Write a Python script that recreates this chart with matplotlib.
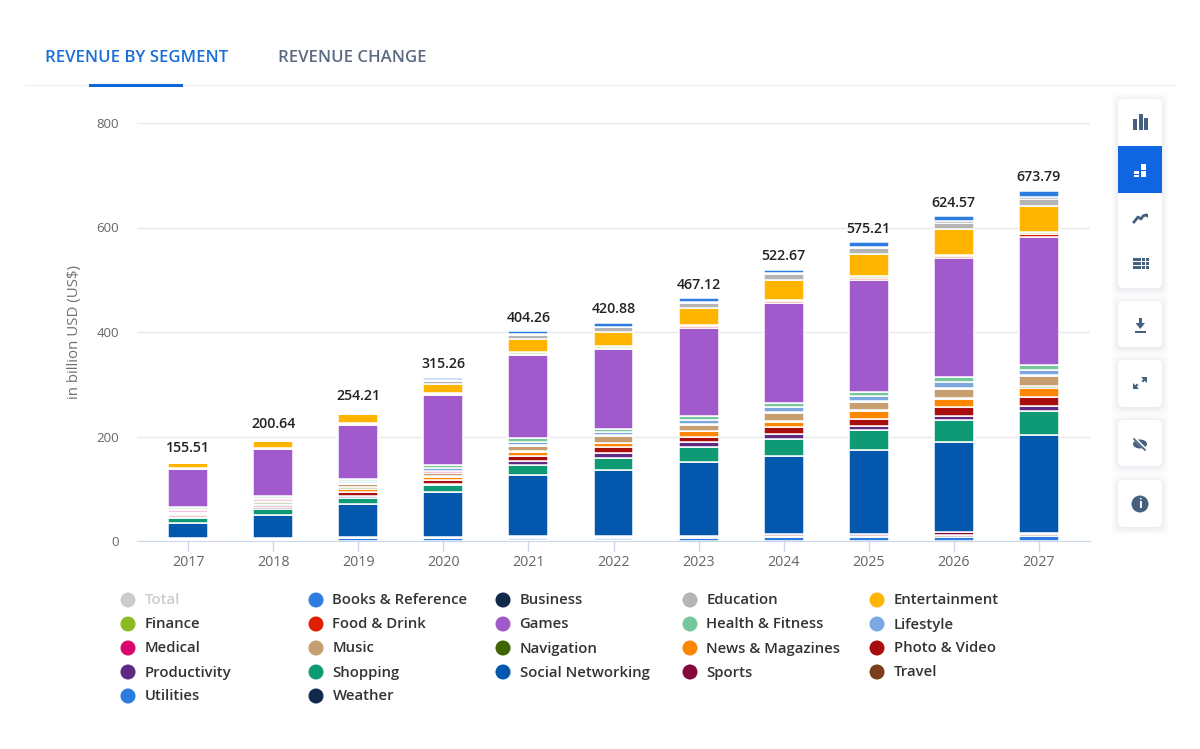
import numpy as np
from matplotlib import pyplot as plt
from matplotlib.patches import FancyBboxPatch, Rectangle, Circle, Ellipse, Polygon

plt.rcParams['font.family'] = ['Open Sans', 'Noto Sans', 'DejaVu Sans']

years = ['2017', '2018', '2019', '2020', '2021', '2022', '2023', '2024', '2025', '2026', '2027']
totals = [155.51, 200.64, 254.21, 315.26, 404.26, 420.88, 467.12, 522.67, 575.21, 624.57, 673.79]

# stacked bottom to top
weather = [1.25, 1.25, 0.5, 0.5, 2.5, 2.5, 0.5, 0.5, 0.5, 0.5, 0.5]
utilities = [1.25, 1.25, 4.5, 4.5, 2.5, 2.5, 5.5, 7, 7, 8, 9.9]
travel = [1.25, 1.25, 1.5, 1.5, 2.5, 2.5, 2, 2.8, 2.8, 2.8, 2.8]
sports = [1.25, 1.25, 1.5, 2, 2.5, 2.5, 2, 2.7, 2.7, 5.7, 2.8]
social = [29, 45, 62, 85.5, 116, 126.5, 141, 150, 161, 172, 187]
shopping = [10, 12, 13, 13, 19.5, 23, 28, 32, 38.5, 42.5, 46]
productivity = [2.5, 2.8, 2.8, 2.8, 8, 8.5, 10, 9, 8.5, 8.5, 10]
photo = [2.5, 3.6, 7.5, 7, 9.5, 11, 10, 13.5, 12.5, 16, 17]
news = [3.2, 2.8, 7, 6, 8, 8, 11, 10.5, 15, 16, 17.5]
navigation = [0.5, 2.8, 2.5, 2, 1, 1.5, 1, 1.5, 2, 2, 2.8]
music = [3.5, 3.2, 5.5, 6, 10, 13, 11, 16, 16, 17, 19.5]
medical = [2.8, 2.8, 2.5, 2.5, 2, 1.5, 2, 2, 2, 2.5, 2.8]
lifestyle = [2.8, 3.2, 4.5, 5.5, 6, 5, 7.5, 8.5, 9.5, 10, 9.5]
health = [2.8, 2.8, 3.2, 6, 6.5, 6, 7.5, 7.5, 6.5, 9.5, 9.2]
games = [72.4, 89.5, 103, 134.2, 159.5, 153.5, 169, 192.5, 215, 229, 245]
food = [1, 1, 1.5, 2, 2.5, 2.75, 2.8, 2.8, 4.5, 2.8, 6]
finance = [1.5, 1.5, 2, 2.5, 2.5, 2.75, 2.8, 2.8, 2.8, 2.8, 2.8]
entertainment = [10, 13, 19, 17, 25, 27.5, 31.4, 37.9, 41.7, 49.4, 50.7]
education = [0, 0, 0, 6.5, 8.5, 8.5, 10, 11.5, 12, 11, 12]
business = [0, 0, 0, 1, 1.5, 1.5, 1.5, 1.5, 1.5, 4, 5]
books = [0, 0, 0, 4, 6, 7, 8, 7, 10, 10.5, 11]

stack = [
    (weather, '#10294a'), (utilities, '#2b7be0'), (travel, '#7a3e1d'), (sports, '#84083c'),
    (social, '#0358ae'), (shopping, '#0f9a76'), (productivity, '#5e2a84'), (photo, '#a80e0e'),
    (news, '#ff8600'), (navigation, '#3f6500'), (music, '#c79e70'), (medical, '#d9046c'),
    (lifestyle, '#7ba8e0'), (health, '#76c79b'), (games, '#a05acb'), (food, '#e01f00'),
    (finance, '#8bbc21'), (entertainment, '#ffb400'), (education, '#b5b5b5'),
    (business, '#10294a'), (books, '#2b7be0'),
]

legend_names = ['Total', 'Books & Reference', 'Business', 'Education', 'Entertainment',
                'Finance', 'Food & Drink', 'Games', 'Health & Fitness', 'Lifestyle',
                'Medical', 'Music', 'Navigation', 'News & Magazines', 'Photo & Video',
                'Productivity', 'Shopping', 'Social Networking', 'Sports', 'Travel',
                'Utilities', 'Weather']
legend_colors = ['#cccccc', '#2b7be0', '#10294a', '#b5b5b5', '#ffb400',
                 '#8bbc21', '#e01f00', '#a05acb', '#76c79b', '#7ba8e0',
                 '#d9046c', '#c79e70', '#3f6500', '#ff8600', '#a80e0e',
                 '#5e2a84', '#0f9a76', '#0358ae', '#84083c', '#7a3e1d',
                 '#2b7be0', '#10294a']

W, H = 1200, 749
fig = plt.figure(figsize=(W/100, H/100), dpi=100, facecolor='white')

# main chart, placed by pixels
ax = fig.add_axes([137/W, 1 - 541/H, 953/W, 418/H])
x = np.arange(len(years))
bottom = np.zeros(len(years))
for vals, col in stack:
    ax.bar(x, vals, 0.47, bottom=bottom, color=col, edgecolor='white', linewidth=1.1, zorder=3)
    bottom += np.array(vals)

for i, t in enumerate(totals):
    ax.annotate(f'{t:.2f}', (i, t), xytext=(0, 3.5), textcoords='offset points',
                ha='center', va='bottom', fontsize=10.2, color='#222222', fontweight=600, zorder=5)

ax.set_xlim(-0.6, 10.6)
ax.set_ylim(0, 800)
ax.set_yticks([0, 200, 400, 600, 800])
ax.set_xticks(x)
ax.set_xticklabels(years)
ax.grid(axis='y', color='#e8e8ee', linewidth=1, zorder=0)
ax.set_axisbelow(True)
for s in ['top', 'right', 'left']:
    ax.spines[s].set_visible(False)
ax.spines['bottom'].set_color('#ccd6eb')
ax.tick_params(axis='y', length=0, pad=13, labelsize=9.5, labelcolor='#666666')
ax.tick_params(axis='x', length=7, width=1, color='#ccd6eb', pad=3, labelsize=10.3, labelcolor='#666666')
ax.set_ylabel('in billion USD (US$)', fontsize=10.8, color='#707070', labelpad=10.5)

# page furniture in pixel coordinates
ov = fig.add_axes([0, 0, 1, 1], facecolor='none')
ov.set_xlim(0, W)
ov.set_ylim(H, 0)
ov.axis('off')

ov.text(45, 58, 'REVENUE BY SEGMENT', fontsize=12.1, color='#1b6fd8', va='center', fontweight=600)
ov.text(278, 58, 'REVENUE CHANGE', fontsize=12.1, color='#5b6b82', va='center', fontweight=600)
ov.plot([25, 1175], [85, 85], color='#f1f1f3', lw=1, zorder=1)
ov.add_patch(Rectangle((89, 83.5), 94, 3.4, fc='#0f66d9', ec='none', zorder=2))

# legend
col_x = [128, 316, 503, 690, 877]
row_y = [600, 624, 648, 672, 696]
for i, (name, col) in enumerate(zip(legend_names, legend_colors)):
    cx = col_x[i % 5]
    cy = row_y[i // 5]
    ov.add_patch(Circle((cx, cy), 7.5, fc=col, ec='none'))
    ov.text(cx + 16.5, cy + 0.5, name, fontsize=10.7, va='center', fontweight=600,
            color='#cccccc' if name == 'Total' else '#333333')

# side buttons
panels = [(99, 189), (301, 46), (360, 47), (420, 46), (480, 47)]
for top, h in panels:
    for grow, a in [(7, 0.012), (5, 0.018), (3, 0.025), (1.5, 0.03)]:
        ov.add_patch(FancyBboxPatch((1118 - grow, top - grow + 1), 44 + 2*grow, h + 2*grow,
                                    boxstyle='round,pad=0,rounding_size=7', fc='#44506a', ec='none', alpha=a))
    ov.add_patch(FancyBboxPatch((1118, top), 44, h, boxstyle='round,pad=0,rounding_size=5', fc='white', ec='none'))
ov.add_patch(Rectangle((1118, 146), 44, 47, fc='#0f66e0', ec='none'))

ic = '#46607f'
# bars icon
for bx, bt in [(1133, 119), (1139, 114), (1144, 118)]:
    ov.add_patch(Rectangle((bx, bt), 4, 130 - bt, fc=ic, ec='none'))
# stacked icon
for bx, by, bw, bh in [(1134, 170.5, 5, 3), (1134, 174.5, 5, 2.5), (1141, 164, 5, 6), (1141, 171, 5, 6)]:
    ov.add_patch(Rectangle((bx, by), bw, bh, fc='white', ec='none'))
# trend icon
ov.plot([1134, 1138, 1141, 1143, 1146], [222, 217, 219, 216, 215], color=ic, lw=2)
ov.add_patch(Polygon([[1143, 213.5], [1147.5, 213.5], [1147.5, 218]], fc=ic, ec='none'))
# table icon
for gx, gw in [(1133, 8), (1142, 3), (1146, 3)]:
    for gy in [258, 262, 266]:
        ov.add_patch(Rectangle((gx, gy), gw, 3, fc=ic, ec='none'))
# download icon
ov.add_patch(Rectangle((1139, 318), 3, 7, fc=ic, ec='none'))
ov.add_patch(Polygon([[1135.5, 323], [1145, 323], [1140.3, 329]], fc=ic, ec='none'))
ov.add_patch(Rectangle((1135, 331), 11, 2, fc=ic, ec='none'))
# expand icon
ov.add_patch(Polygon([[1147, 377], [1147, 383], [1141, 377]], fc=ic, ec='none'))
ov.add_patch(Polygon([[1133, 389], [1133, 383], [1139, 389]], fc=ic, ec='none'))
ov.plot([1143, 1145], [381, 379], color=ic, lw=1.5)
ov.plot([1135, 1137], [387, 385], color=ic, lw=1.5)
# hidden eye icon
ov.add_patch(Ellipse((1140, 444), 14, 9, fc=ic, ec='none'))
ov.plot([1135, 1146], [439, 450], color='white', lw=2.4)
ov.plot([1134, 1145], [439, 450], color=ic, lw=1.2)
# info icon
ov.add_patch(Circle((1140, 504), 8.5, fc=ic, ec='none'))
ov.text(1140, 504, 'i', color='white', fontsize=9, fontweight='bold', ha='center', va='center')

fig.savefig('out.png', dpi=100)
